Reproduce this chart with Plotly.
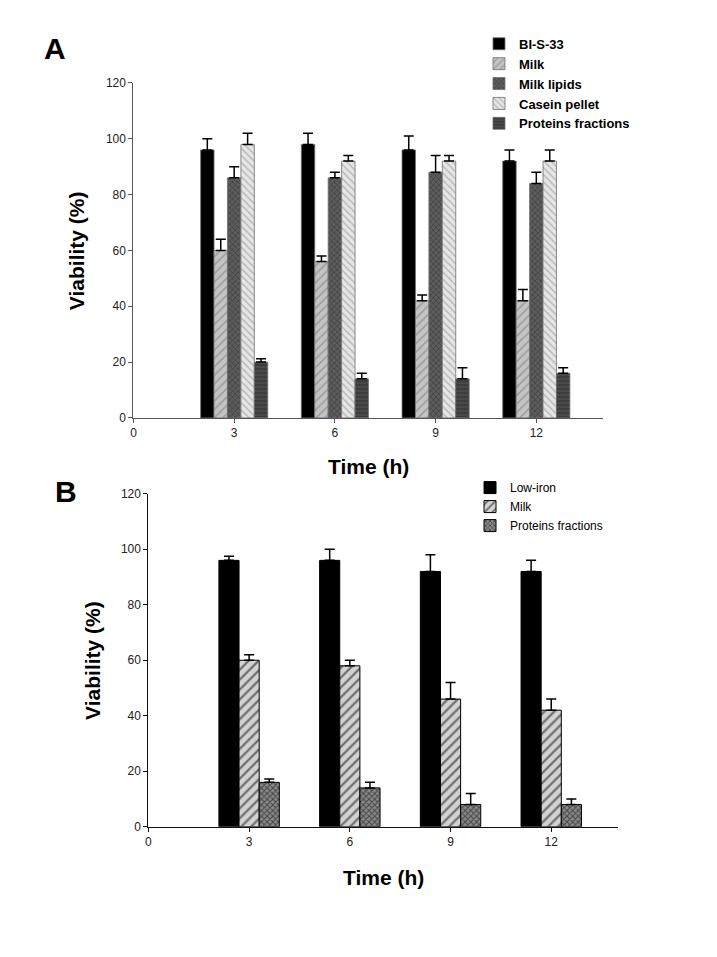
import plotly.graph_objects as go

# ---- data ----
times = [3, 6, 9, 12]

# Panel A
a_names = ["BI-S-33", "Milk", "Milk lipids", "Casein pellet", "Proteins fractions"]
a_bis33 = [96, 98, 96, 92]
a_bis33_err = [4, 4, 5, 4]
a_milk = [60, 56, 42, 42]
a_milk_err = [4, 2, 2, 4]
a_lipids = [86, 86, 88, 84]
a_lipids_err = [4, 2, 6, 4]
a_casein = [98, 92, 92, 92]
a_casein_err = [4, 2, 2, 4]
a_proteins = [20, 14, 14, 16]
a_proteins_err = [1.2, 2, 4, 2]

# Panel B
b_names = ["Low-iron", "Milk", "Proteins fractions"]
b_lowiron = [96, 96, 92, 92]
b_lowiron_err = [1.5, 4, 6, 4]
b_milk = [60, 58, 46, 42]
b_milk_err = [2, 2, 6, 4]
b_proteins = [16, 14, 8, 8]
b_proteins_err = [1.2, 2, 4, 2]

x_ticks = [0, 3, 6, 9, 12]
y_ticks = [0, 20, 40, 60, 80, 100, 120]

FONT = "Liberation Sans, Arial, sans-serif"

fig = go.Figure()

a_vals = [a_bis33, a_milk, a_lipids, a_casein, a_proteins]
a_errs = [a_bis33_err, a_milk_err, a_lipids_err, a_casein_err, a_proteins_err]
a_styles = [
    dict(color="#000000", pattern=dict(shape="")),
    dict(color="#c4c4c4", pattern=dict(shape="/", fgcolor="#7a7a7a", size=6, solidity=0.3, fillmode="overlay")),
    dict(color="#5c5c5c", pattern=dict(shape="x", fgcolor="#2e2e2e", size=4, solidity=0.4, fillmode="overlay")),
    dict(color="#e6e6e6", pattern=dict(shape="\\", fgcolor="#8c8c8c", size=5, solidity=0.3, fillmode="overlay")),
    dict(color="#4a4a4a", pattern=dict(shape="-", fgcolor="#2a2a2a", size=4, solidity=0.4, fillmode="overlay")),
]
bw_a = 0.4
for i, (nm, v, e, st) in enumerate(zip(a_names, a_vals, a_errs, a_styles)):
    fig.add_trace(go.Bar(
        x=times, y=v, name="<b>" + nm + "</b>", width=bw_a, offset=-2.5 * bw_a + i * bw_a,
        marker=dict(color=st["color"], pattern=st["pattern"],
                    line=dict(color="#6e6e6e", width=0.8)),
        error_y=dict(type="data", array=e, arrayminus=[0] * len(e), symmetric=False,
                     color="#000000", thickness=1.5, width=5),
        xaxis="x", yaxis="y", legend="legend",
    ))

b_vals = [b_lowiron, b_milk, b_proteins]
b_errs = [b_lowiron_err, b_milk_err, b_proteins_err]
b_styles = [
    dict(color="#000000", pattern=dict(shape="")),
    dict(color="#d2d2d2", pattern=dict(shape="/", fgcolor="#000000", size=7, solidity=0.3, fillmode="overlay")),
    dict(color="#8a8a8a", pattern=dict(shape="x", fgcolor="#000000", size=4, solidity=0.45, fillmode="overlay")),
]
bw_b = 0.6
for i, (nm, v, e, st) in enumerate(zip(b_names, b_vals, b_errs, b_styles)):
    fig.add_trace(go.Bar(
        x=times, y=v, name=nm, width=bw_b, offset=-1.5 * bw_b + i * bw_b,
        marker=dict(color=st["color"], pattern=st["pattern"],
                    line=dict(color="#000000", width=1)),
        error_y=dict(type="data", array=e, arrayminus=[0] * len(e), symmetric=False,
                     color="#000000", thickness=1.5, width=5),
        xaxis="x2", yaxis="y2", legend="legend2",
    ))

# page body margin of the html page is 8px; the figure is sized to fit in the window
OFF = 8
W, H = 717 - 2 * OFF, 957 - 2 * OFF
def px_x(p):
    return (p - OFF) / W
def px_y(p):
    return 1 - (p - OFF) / H

axis_common = dict(
    showgrid=False, zeroline=False, showline=True, linewidth=1.2,
    ticks="outside", ticklen=4, tickwidth=1.2,
    tickfont=dict(family=FONT, size=12, color="#222222"),
)

fig.update_layout(
    width=W, height=H,
    margin=dict(l=0, r=0, t=0, b=0),
    paper_bgcolor="white", plot_bgcolor="white",
    font=dict(family=FONT, color="#000000"),
    barmode="overlay",
    xaxis=dict(domain=[px_x(131), px_x(603)], range=[0, 14], tickvals=x_ticks,
               anchor="y", linecolor="#555555", tickcolor="#555555", **axis_common),
    yaxis=dict(domain=[px_y(417), px_y(77)], range=[0, 120], tickvals=y_ticks,
               anchor="x", linecolor="#555555", tickcolor="#555555", **axis_common),
    xaxis2=dict(domain=[px_x(146), px_x(618)], range=[0, 14], tickvals=x_ticks,
                anchor="y2", linecolor="#111111", tickcolor="#111111", **axis_common),
    yaxis2=dict(domain=[px_y(832), px_y(494)], range=[0, 120], tickvals=y_ticks,
                anchor="x2", linecolor="#111111", tickcolor="#111111", **axis_common),
    legend=dict(x=px_x(478), y=px_y(22), xanchor="left", yanchor="top",
                bgcolor="rgba(0,0,0,0)", font=dict(family=FONT, size=13, color="#000000"),
                itemwidth=30, tracegroupgap=0),
    legend2=dict(x=px_x(469), y=px_y(473), xanchor="left", yanchor="top",
                 bgcolor="rgba(0,0,0,0)", font=dict(family=FONT, size=12, color="#000000"),
                 itemwidth=30, tracegroupgap=0),
    showlegend=True,
)

annos = [
    dict(text="<b>A</b>", x=px_x(52), y=px_y(42), size=30, angle=0),
    dict(text="<b>B</b>", x=px_x(63), y=px_y(492), size=30, angle=0),
    dict(text="<b>Viability (%)</b>", x=px_x(74), y=px_y(247), size=21, angle=-90),
    dict(text="<b>Time (h)</b>", x=px_x(367), y=px_y(466), size=21, angle=0),
    dict(text="<b>Viability (%)</b>", x=px_x(90), y=px_y(663), size=21, angle=-90),
    dict(text="<b>Time (h)</b>", x=px_x(382), y=px_y(884), size=21, angle=0),
]
for a in annos:
    fig.add_annotation(text=a["text"], x=a["x"], y=a["y"], xref="paper", yref="paper",
                       xanchor="center", yanchor="middle", showarrow=False,
                       textangle=a["angle"], font=dict(family=FONT, size=a["size"], color="#000000"))

fig.write_html("out.html")
